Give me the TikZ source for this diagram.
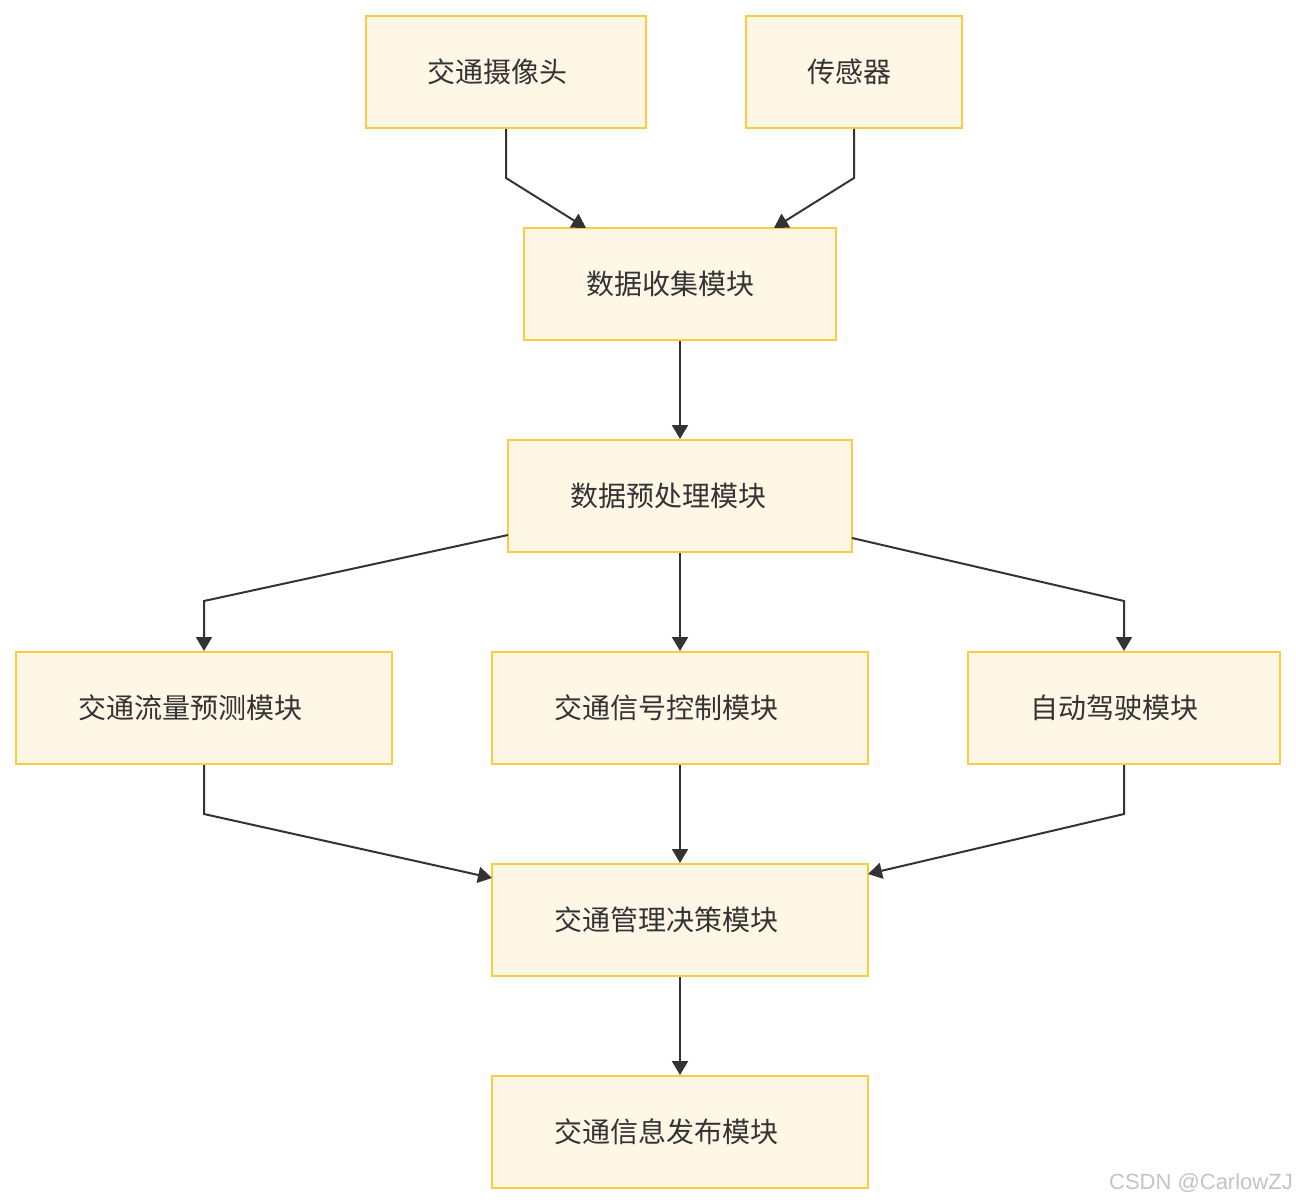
\documentclass[tikz,border=0pt]{standalone}
\usepackage{fontspec}
\setmainfont{Liberation Sans}
\newfontfamily\cjk{Noto Sans CJK SC}
\usetikzlibrary{arrows.meta}
\definecolor{boxfill}{HTML}{FFF7E6}
\definecolor{boxline}{HTML}{FFC940}
\definecolor{edgecol}{HTML}{333333}
\definecolor{txtcol}{HTML}{333333}
\definecolor{wmcol}{HTML}{C4C4C4}
\begin{document}
\begin{tikzpicture}[x=1pt,y=-1pt,
  box/.style={draw=boxline,fill=boxfill,line width=2pt,inner sep=0pt,
    text=txtcol,font=\cjk\fontsize{28}{32}\selectfont,minimum height=112pt,
    execute at end node={\kern#1pt}},
  edge/.style={draw=edgecol,line width=2pt,-{Triangle[width=16pt,length=14pt]}}]
\useasboundingbox (0,0) rectangle (1296,1204);
\fill[white] (0,0) rectangle (1296,1204);
\node[box=18,minimum width=280pt] (cam) at (506,72) {交通摄像头};
\node[box=10,minimum width=216pt] (sen) at (854,72) {传感器};
\node[box=20,minimum width=312pt] (col) at (680,284) {数据收集模块};
\node[box=24,minimum width=344pt] (pre) at (680,496) {数据预处理模块};
\node[box=28,minimum width=376pt] (flow) at (204,708) {交通流量预测模块};
\node[box=28,minimum width=376pt] (sig) at (680,708) {交通信号控制模块};
\node[box=20,minimum width=312pt] (auto) at (1124,708) {自动驾驶模块};
\node[box=28,minimum width=376pt] (dec) at (680,920) {交通管理决策模块};
\node[box=28,minimum width=376pt] (pub) at (680,1132) {交通信息发布模块};
\coordinate (c1) at (506,178);
\coordinate (c2) at (854,178);
\coordinate (c3) at (204,601);
\coordinate (c4) at (1124,601);
\coordinate (c5) at (204,814);
\coordinate (c6) at (1124,814);
\coordinate (t1) at (586,228);
\coordinate (t2) at (774,228);
\coordinate (s3) at (508,535);
\coordinate (s4) at (852,538);
\coordinate (t5) at (492,878);
\coordinate (t6) at (868,874);
\draw[edge] (cam.south) -- (c1) -- (t1);
\draw[edge] (sen.south) -- (c2) -- (t2);
\draw[edge] (col) -- (pre);
\draw[edge] (s3) -- (c3) -- (flow.north);
\draw[edge] (pre) -- (sig);
\draw[edge] (s4) -- (c4) -- (auto.north);
\draw[edge] (flow.south) -- (c5) -- (t5);
\draw[edge] (sig) -- (dec);
\draw[edge] (auto.south) -- (c6) -- (t6);
\draw[edge] (dec) -- (pub);
\node[text=wmcol,font=\fontsize{22}{24}\selectfont,anchor=east,inner sep=0pt] (wm) at (1293,1183) {CSDN @CarlowZJ};
\end{tikzpicture}
\end{document}
